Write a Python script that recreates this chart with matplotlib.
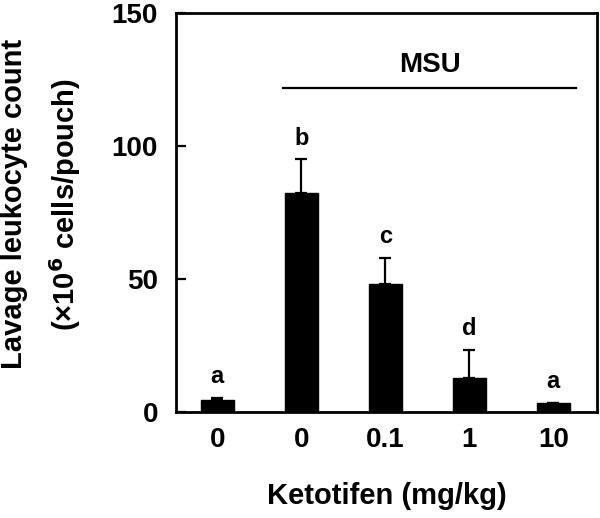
import matplotlib.pyplot as plt
import numpy as np

plt.rcParams['font.family'] = ['Liberation Sans', 'DejaVu Sans']
plt.rcParams['font.weight'] = 'bold'
plt.rcParams['mathtext.default'] = 'bf'

doses = ['0', '0', '0.1', '1', '10']
counts = [4.4, 82.4, 48.0, 12.9, 3.5]
errors = [1.0, 12.6, 10.0, 10.5, 0.0]
letters = ['a', 'b', 'c', 'd', 'a']


def main():
    fig = plt.figure(figsize=(6, 5.18), dpi=100)
    ax = fig.add_axes([176 / 600, 1 - 412 / 518, 421 / 600, 399 / 518])

    x = np.arange(len(doses))
    ax.bar(x, counts, width=0.39, color='black', edgecolor='black')
    ax.errorbar(x, counts, yerr=[np.zeros(len(errors)), errors], fmt='none',
                ecolor='black', elinewidth=1.6, capsize=4.5, capthick=1.6)

    for xi, c, e, l in zip(x, counts, errors, letters):
        ax.text(xi, c + e + 3.5, l, ha='center', va='bottom', fontsize=17)

    # MSU bracket
    ax.plot([0.78, 4.27], [121.7, 121.7], color='black', lw=1.6)
    ax.text(2.53, 125.5, 'MSU', ha='center', va='bottom', fontsize=20)

    ax.set_xlim(-0.49, 4.52)
    ax.set_ylim(0, 150)
    ax.set_yticks([0, 50, 100, 150])
    ax.set_xticks(x)
    ax.set_xticklabels(doses)
    ax.tick_params(axis='y', direction='in', length=7, width=1.6, pad=13, labelsize=20)
    ax.tick_params(axis='x', length=0, pad=11, labelsize=20)
    for s in ax.spines.values():
        s.set_linewidth(2)

    fig.text(387 / 600, 1 - 504 / 518, 'Ketotifen (mg/kg)', ha='center',
             va='baseline', fontsize=21)
    fig.text(22 / 600, 1 - 204 / 518, 'Lavage leukocyte count', rotation=90,
             rotation_mode='anchor', ha='center', va='baseline', fontsize=21)
    fig.text(75 / 600, 1 - 205 / 518, '(×10$^6$ cells/pouch)', rotation=90,
             rotation_mode='anchor', ha='center', va='baseline', fontsize=21)

    fig.savefig('out.png', dpi=100)


if __name__ == "__main__":
    main()
